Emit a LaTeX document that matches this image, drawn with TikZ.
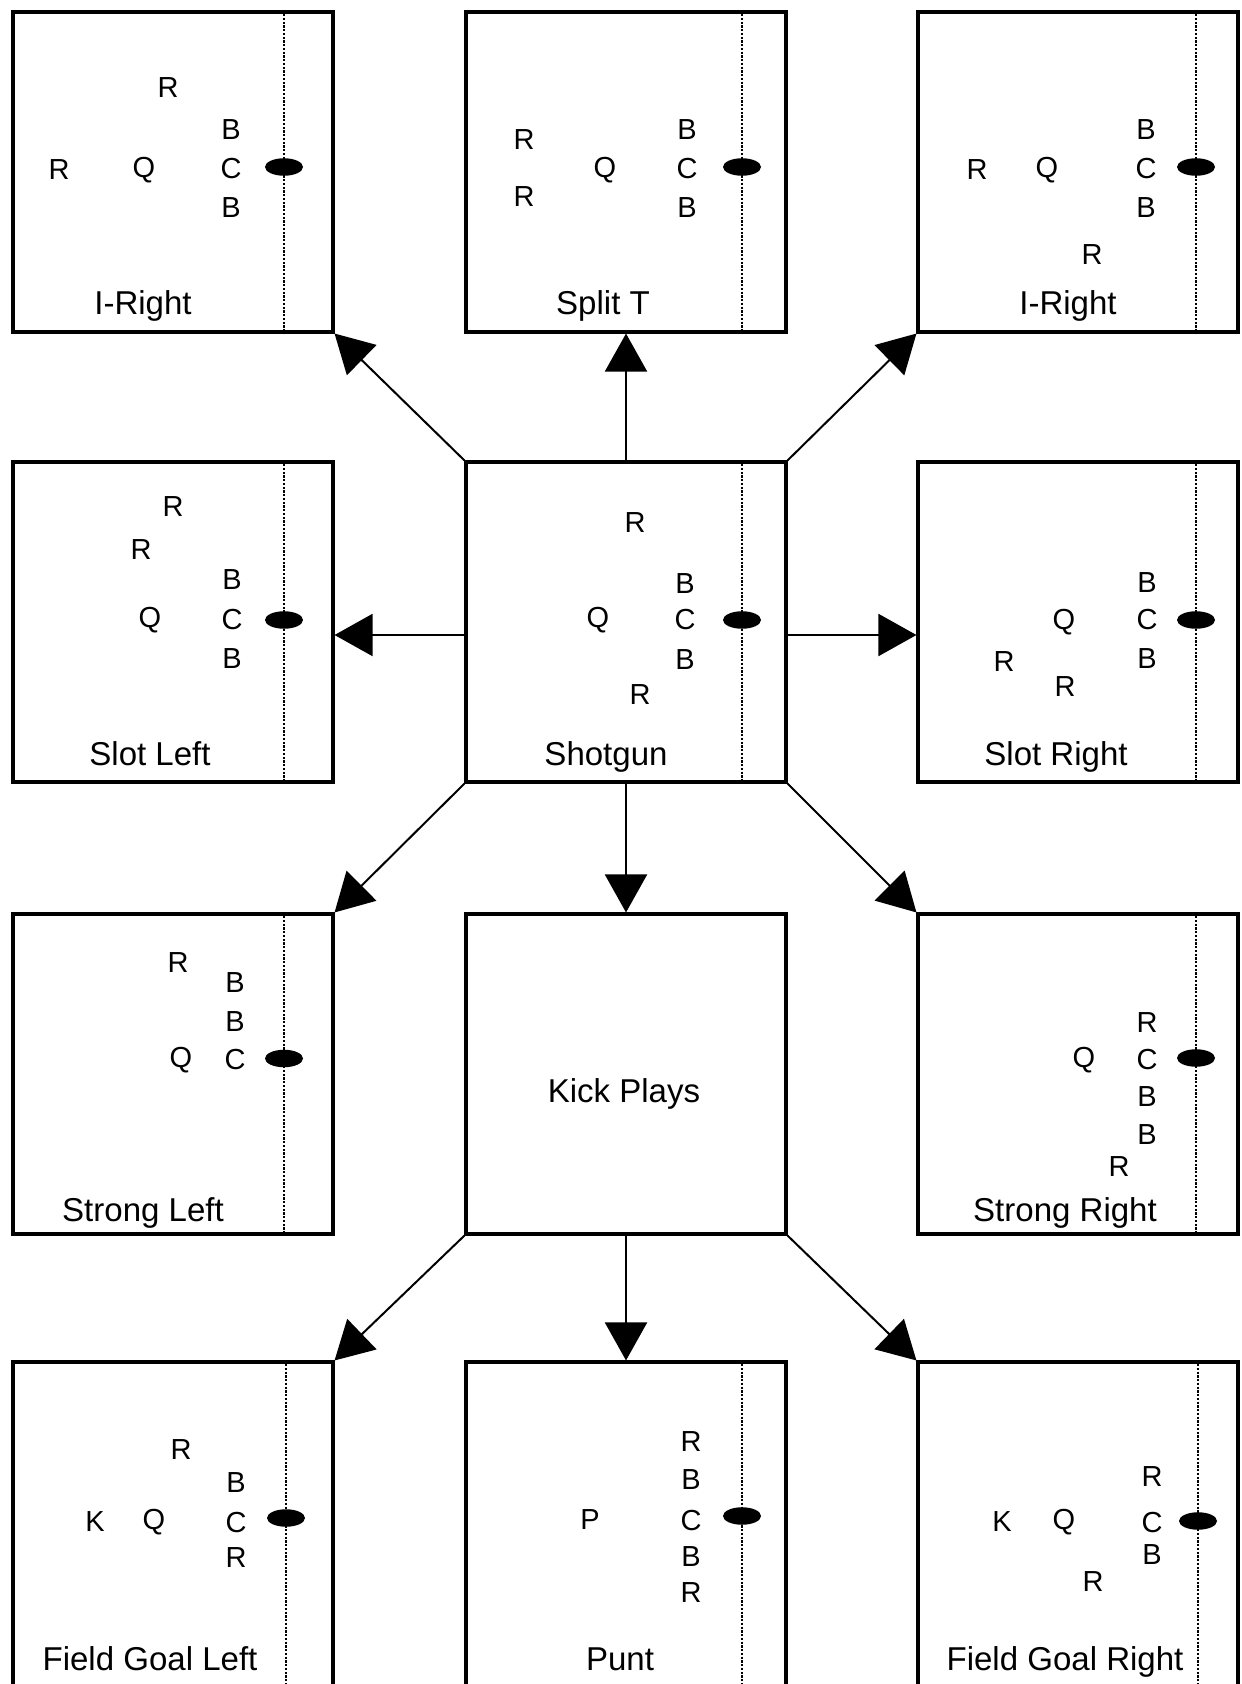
\documentclass[tikz,border=0pt]{standalone}
\usepackage{fontspec}
\setmainfont{Liberation Sans}
\usetikzlibrary{arrows.meta}

\begin{document}
\begin{tikzpicture}[x=0.2mm, y=-0.2mm]
    \tikzset{box/.style={
      draw, rectangle, line width=0.62mm, inner sep=0pt,
      minimum width=64mm, minimum height=64mm}}
    \tikzset{man/.style={inner sep=0pt, font=\fontsize{16.5}{18}\selectfont}}
    \tikzset{fname/.style={inner sep=0pt, anchor=base,
      font=\fontsize{18.8}{20}\selectfont}}
    \tikzset{play/.style={line width=0.4mm,
      -{Triangle[length=7.6mm, width=8.4mm]}}}
    \tikzset{scrim/.style={line width=0.35mm, dash pattern=on 0.45mm off 0.3mm}}

    \useasboundingbox (0, 0) rectangle (1242, 1684);

    % Formations
    \path (173, 172) node [box] (irA) {};
    \path (626, 172) node [box] (split) {};
    \path (1078, 172) node [box] (irB) {};

    \path (173, 622) node [box] (slotL) {};
    \path (626, 622) node [box] (shot) {};
    \path (1078, 622) node [box] (slotR) {};

    \path (173, 1074) node [box] (strongL) {};
    \path (626, 1074) node [box] (kick) {};
    \path (1078, 1074) node [box] (strongR) {};

    % Bottom row runs off the page
    \path (173, 1527) node [box, minimum height=66mm] (fgL) {};
    \path (626, 1527) node [box, minimum height=66mm] (punt) {};
    \path (1078, 1527) node [box, minimum height=66mm] (fgR) {};

    % Line of scrimmage and ball
    \foreach \b/\d/\h in {irA/22.2mm/1mm, split/23.2mm/1mm, irB/23.6mm/1mm,%
                          slotL/22.2mm/0.4mm, shot/23.2mm/0.4mm, slotR/23.6mm/0.4mm,%
                          strongL/22.2mm/3.1mm, strongR/23.6mm/3.2mm,%
                          fgL/22.6mm/1.8mm, punt/23.2mm/2.2mm, fgR/24mm/1.2mm} {
      \draw [scrim] ([xshift=\d]\b.north) -- ([xshift=\d]\b.south);
      \fill ([xshift=\d, yshift=\h]\b.center)
            ellipse [x radius=3.8mm, y radius=1.75mm];
    }

    % Players
    \foreach \l/\x/\y [count=\i] in {R/168/88, B/231/130, C/231/169, B/231/208,%
                                     R/59/170, Q/144/170} {
      \path (\x, \y) node [man] (irA\i) {\l};
    }
    \foreach \l/\x/\y [count=\i] in {R/524/140, R/524/197, Q/605/170,%
                                     B/687/130, C/687/169, B/687/208} {
      \path (\x, \y) node [man] (split\i) {\l};
    }
    \foreach \l/\x/\y [count=\i] in {R/977/170, Q/1047/170, B/1146/130,%
                                     C/1146/169, B/1146/208, R/1092/255} {
      \path (\x, \y) node [man] (irB\i) {\l};
    }
    \foreach \l/\x/\y [count=\i] in {R/173/507, R/141/550, B/232/580,%
                                     C/232/620, B/232/659, Q/150/620} {
      \path (\x, \y) node [man] (slotL\i) {\l};
    }
    \foreach \l/\x/\y [count=\i] in {R/635/523, B/685/584, C/685/620,%
                                     B/685/660, Q/598/620, R/640/695} {
      \path (\x, \y) node [man] (shot\i) {\l};
    }
    \foreach \l/\x/\y [count=\i] in {B/1147/583, C/1147/620, B/1147/659,%
                                     Q/1064/622, R/1004/662, R/1065/687} {
      \path (\x, \y) node [man] (slotR\i) {\l};
    }
    \foreach \l/\x/\y [count=\i] in {R/178/963, B/235/983, B/235/1022,%
                                     C/235/1060, Q/181/1060} {
      \path (\x, \y) node [man] (strongL\i) {\l};
    }
    \foreach \l/\x/\y [count=\i] in {R/1147/1023, C/1147/1060, B/1147/1097,%
                                     B/1147/1135, R/1119/1167, Q/1084/1060} {
      \path (\x, \y) node [man] (strongR\i) {\l};
    }
    \foreach \l/\x/\y [count=\i] in {R/181/1450, B/236/1483, C/236/1522,%
                                     R/236/1558, K/95/1522, Q/154/1522} {
      \path (\x, \y) node [man] (fgL\i) {\l};
    }
    \foreach \l/\x/\y [count=\i] in {R/691/1442, B/691/1480, C/691/1520,%
                                     B/691/1557, R/691/1593, P/590/1520} {
      \path (\x, \y) node [man] (punt\i) {\l};
    }
    \foreach \l/\x/\y [count=\i] in {R/1152/1477, C/1152/1522, B/1152/1555,%
                                     K/1002/1522, Q/1064/1522, R/1093/1582} {
      \path (\x, \y) node [man] (fgR\i) {\l};
    }

    % Names
    \foreach \b/\l/\x/\y in {irA/I-Right/143/315, split/Split T/603/315,%
                             irB/I-Right/1068/315,%
                             slotL/Slot Left/150/765, shot/Shotgun/606/765,%
                             slotR/Slot Right/1056/765,%
                             strongL/Strong Left/143/1221, kick/Kick Plays/624/1102,%
                             strongR/Strong Right/1065/1221,%
                             fgL/Field Goal Left/150/1670, punt/Punt/620/1670,%
                             fgR/Field Goal Right/1065/1670} {
      \path (\x, \y) node [fname] (\b-name) {\l};
    }

    % Edges
    \draw [play] (shot.north west) -- (irA.south east);
    \draw [play] (shot.north) -- (split.south);
    \draw [play] (shot.north east) -- (irB.south west);
    \draw [play] ([yshift=-2.6mm]shot.west) -- ([yshift=-2.6mm]slotL.east);
    \draw [play] ([yshift=-2.6mm]shot.east) -- ([yshift=-2.6mm]slotR.west);
    \draw [play] (shot.south west) -- (strongL.north east);
    \draw [play] (shot.south) -- (kick.north);
    \draw [play] (shot.south east) -- (strongR.north west);
    \draw [play] (kick.south west) -- (fgL.north east);
    \draw [play] (kick.south) -- (punt.north);
    \draw [play] (kick.south east) -- (fgR.north west);
\end{tikzpicture}
\end{document}
